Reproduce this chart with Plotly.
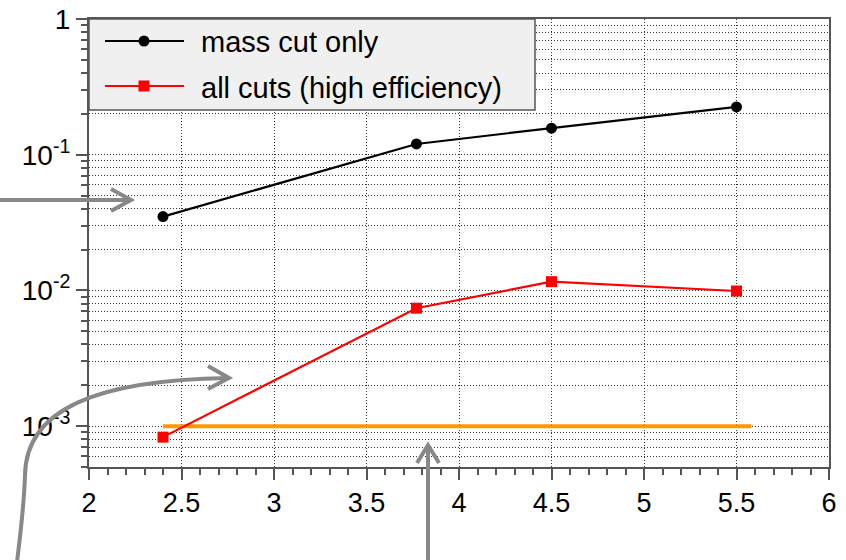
import plotly.graph_objects as go

# ---- data ----
mass_x = [2.4, 3.77, 4.5, 5.5]
mass_y = [0.035, 0.12, 0.157, 0.225]

cuts_x = [2.4, 3.77, 4.5, 5.5]
cuts_y = [0.00083, 0.0074, 0.0116, 0.0099]

limit_x = [2.4, 5.58]
limit_y = [1e-3, 1e-3]

x_ticks = [2, 2.5, 3, 3.5, 4, 4.5, 5, 5.5, 6]
x_tick_text = ["2", "2.5", "3", "3.5", "4", "4.5", "5", "5.5", "6"]

y_major = [1e-3, 1e-2, 1e-1, 1]
y_major_text = ["10<sup>-3</sup>", "10<sup>-2</sup>", "10<sup>-1</sup>", "1"]
y_minor = [m * 10.0 ** e for e in (-4, -3, -2, -1) for m in range(2, 10) if m * 10.0 ** e >= 5e-4]

legend_labels = ["mass cut only", "all cuts (high efficiency)"]

# ---- geometry (pixels) ----
W, H = 846, 560
L, R, T, B = 89, 829, 19, 467
FONT = "Liberation Sans"
AXIS = "#555555"
GRID = "#333333"
ARROW = "#888888"


def px(x):
    return (x - L) / (R - L)


def py(y):
    return (B - y) / (B - T)


def pt(a, b):
    return f"{px(a):.5f},{py(b):.5f}"


def path(points):
    return "M " + " L ".join(pt(a, b) for a, b in points)


fig = go.Figure()

fig.add_trace(go.Scatter(
    x=limit_x, y=limit_y, mode="lines",
    line=dict(color="#ff9900", width=4), showlegend=False, hoverinfo="skip"))

fig.add_trace(go.Scatter(
    x=mass_x, y=mass_y, mode="lines+markers", name=legend_labels[0],
    line=dict(color="black", width=2.2),
    marker=dict(symbol="circle", size=11, color="black"), showlegend=False))

fig.add_trace(go.Scatter(
    x=cuts_x, y=cuts_y, mode="lines+markers", name=legend_labels[1],
    line=dict(color="#ff0000", width=2.2),
    marker=dict(symbol="square", size=11, color="#ff0000"), showlegend=False))

shapes = []
annotations = []

# legend box
shapes.append(dict(type="rect", xref="paper", yref="paper",
                   x0=px(89), x1=px(535), y0=py(110), y1=py(19),
                   fillcolor="#f0f0f0", line=dict(color=AXIS, width=1.5), layer="above"))
# legend entries
for label, color, symbol, yc in [(legend_labels[0], "black", "circle", 41),
                                  (legend_labels[1], "#ff0000", "square", 86)]:
    shapes.append(dict(type="line", xref="paper", yref="paper",
                       x0=px(105), x1=px(184), y0=py(yc), y1=py(yc),
                       line=dict(color=color, width=2.2), layer="above"))
    s = 5.5
    shapes.append(dict(type="circle" if symbol == "circle" else "rect",
                       xref="paper", yref="paper",
                       x0=px(144 - s), x1=px(144 + s), y0=py(yc + s), y1=py(yc - s),
                       fillcolor=color, line=dict(color=color, width=0), layer="above"))
    annotations.append(dict(text=label, xref="paper", yref="paper",
                            x=px(199), y=py(yc + 1.5), xanchor="left", yanchor="middle",
                            showarrow=False, font=dict(family=FONT, size=29, color="black")))

# pointer arrows
arrow_line = dict(color=ARROW, width=4)
shapes.append(dict(type="path", xref="paper", yref="paper",
                   path=path([(0, 200), (130, 200)]), line=arrow_line))
shapes.append(dict(type="path", xref="paper", yref="paper",
                   path=path([(111, 189), (131, 200), (111, 211)]), line=arrow_line))

curve = (f"M {pt(17, 562)} "
         f"C {pt(21, 530)} {pt(24.4, 495)} {pt(25, 475)} "
         f"C {pt(26, 410)} {pt(95, 380)} {pt(228, 378)}")
shapes.append(dict(type="path", xref="paper", yref="paper", path=curve, line=arrow_line))
shapes.append(dict(type="path", xref="paper", yref="paper",
                   path=path([(208, 366), (229, 378), (208, 389)]), line=arrow_line))

shapes.append(dict(type="path", xref="paper", yref="paper",
                   path=path([(428, 562), (428, 446)]), line=arrow_line))
shapes.append(dict(type="path", xref="paper", yref="paper",
                   path=path([(417, 463), (428, 445), (439, 463)]), line=arrow_line))

fig.update_layout(
    width=W, height=H,
    margin=dict(l=L, r=W - R, t=T, b=H - B, pad=0, autoexpand=False),
    paper_bgcolor="white", plot_bgcolor="white",
    font=dict(family=FONT, color="black"),
    shapes=shapes, annotations=annotations,
    showlegend=False,
)

fig.update_xaxes(
    range=[2, 6], tickmode="array", tickvals=x_ticks, ticktext=x_tick_text,
    tickangle=0, automargin=False,
    ticks="outside", ticklen=11, tickwidth=1.5, tickcolor=AXIS,
    showline=True, linecolor=AXIS, linewidth=2, mirror=True,
    showgrid=True, gridcolor=GRID, gridwidth=1, griddash="1px,2px",
    zeroline=False,
    tickfont=dict(family=FONT, size=27, color="black"),
    minor=dict(dtick=0.1, tick0=2, ticks="outside", ticklen=6, tickwidth=1.5,
               tickcolor=AXIS, showgrid=False),
)

fig.update_yaxes(
    type="log", range=[-3.30103, 0], automargin=False,
    tickmode="array", tickvals=y_major, ticktext=y_major_text,
    ticks="outside", ticklen=11, tickwidth=1.5, tickcolor=AXIS,
    showline=True, linecolor=AXIS, linewidth=2, mirror=True,
    showgrid=True, gridcolor=GRID, gridwidth=1, griddash="1px,2px",
    zeroline=False,
    tickfont=dict(family=FONT, size=28, color="black"),
    minor=dict(tickmode="array", tickvals=y_minor, ticks="outside", ticklen=6,
               tickwidth=1.5, tickcolor=AXIS, showgrid=True, gridcolor=GRID,
               gridwidth=1, griddash="1px,2px"),
)

fig.write_html("out.html")
